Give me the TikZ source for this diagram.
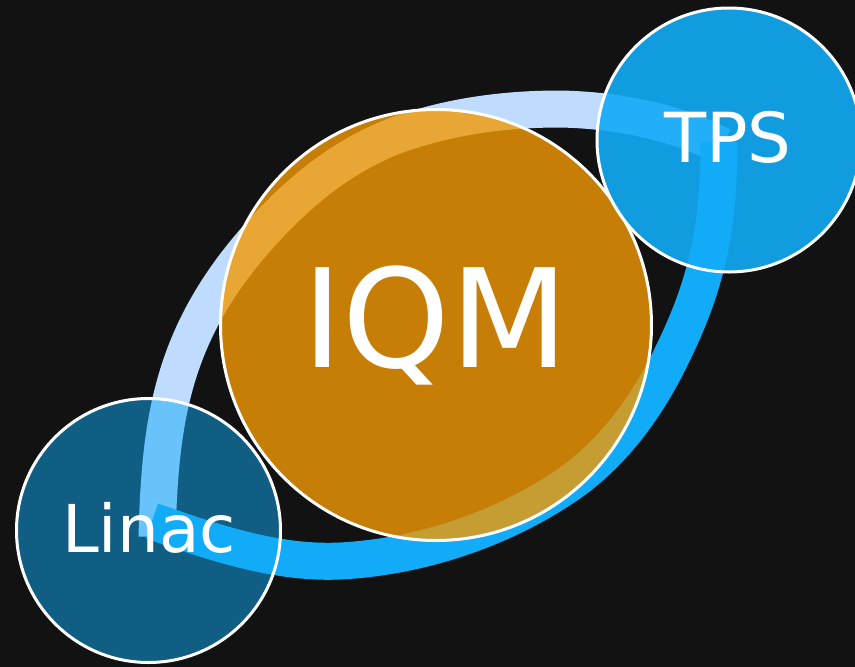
\documentclass[tikz,border=0pt]{standalone}
\usepackage{fontspec}
\setmainfont{DejaVu Sans}
\definecolor{bgcol}{RGB}{18,18,18}
\definecolor{lightring}{RGB}{191,220,255}
\definecolor{brightring}{RGB}{17,171,247}
\definecolor{iqmorange}{RGB}{243,154,3}
\tikzset{
  band/.style={line width=37pt, line cap=butt},
  bubble/.style={circle, inner sep=0pt, draw=white, line width=3pt},
  label/.style={text=white, inner sep=0pt, anchor=base}
}
\begin{document}
\begin{tikzpicture}[x=1pt,y=-1pt]
\useasboundingbox (0,0) rectangle (855,667);
\fill[bgcol] (0,0) rectangle (855,667);
% upper-left light arc
\coordinate (la) at (157,537);
\coordinate (lb) at (258,237);
\coordinate (lc) at (400,134);
\coordinate (ld) at (560,109);
\coordinate (le) at (722,146);
\draw[band, lightring] (la) .. controls (160,420) and (172,334) .. (lb)
  .. controls (298,192) and (344,154) .. (lc)
  .. controls (452,116) and (505,109) .. (ld)
  .. controls (615,110) and (673,121) .. (le);
% lower-right bright arc
\coordinate (ba) at (719,142);
\coordinate (bb) at (672,355);
\coordinate (bc) at (570,483);
\coordinate (bd) at (340,561);
\coordinate (be) at (152,521);
\draw[band, brightring] (ba) .. controls (719,225) and (708,282) .. (bb)
  .. controls (648,405) and (615,451) .. (bc)
  .. controls (504,529) and (420,557) .. (bd)
  .. controls (276,564) and (212,542) .. (be);
% circles
\node[bubble, fill=iqmorange, fill opacity=0.8, minimum size=431pt] (iqm) at (436,325) {};
\node[bubble, fill=brightring, fill opacity=0.9, minimum size=264pt] (tps) at (729,140) {};
\node[bubble, fill=brightring, fill opacity=0.5, minimum size=264pt] (linac) at (148.5,530.5) {};
% labels
\node[label, font=\fontsize{137}{140}\selectfont] (iqmt) at (435.5,367) {IQM};
\node[label, font=\fontsize{69}{72}\selectfont] (tpst) at (728,162) {TPS};
\node[label, font=\fontsize{66}{70}\selectfont] (linact) at (149,552) {Linac};
\end{tikzpicture}
\end{document}
